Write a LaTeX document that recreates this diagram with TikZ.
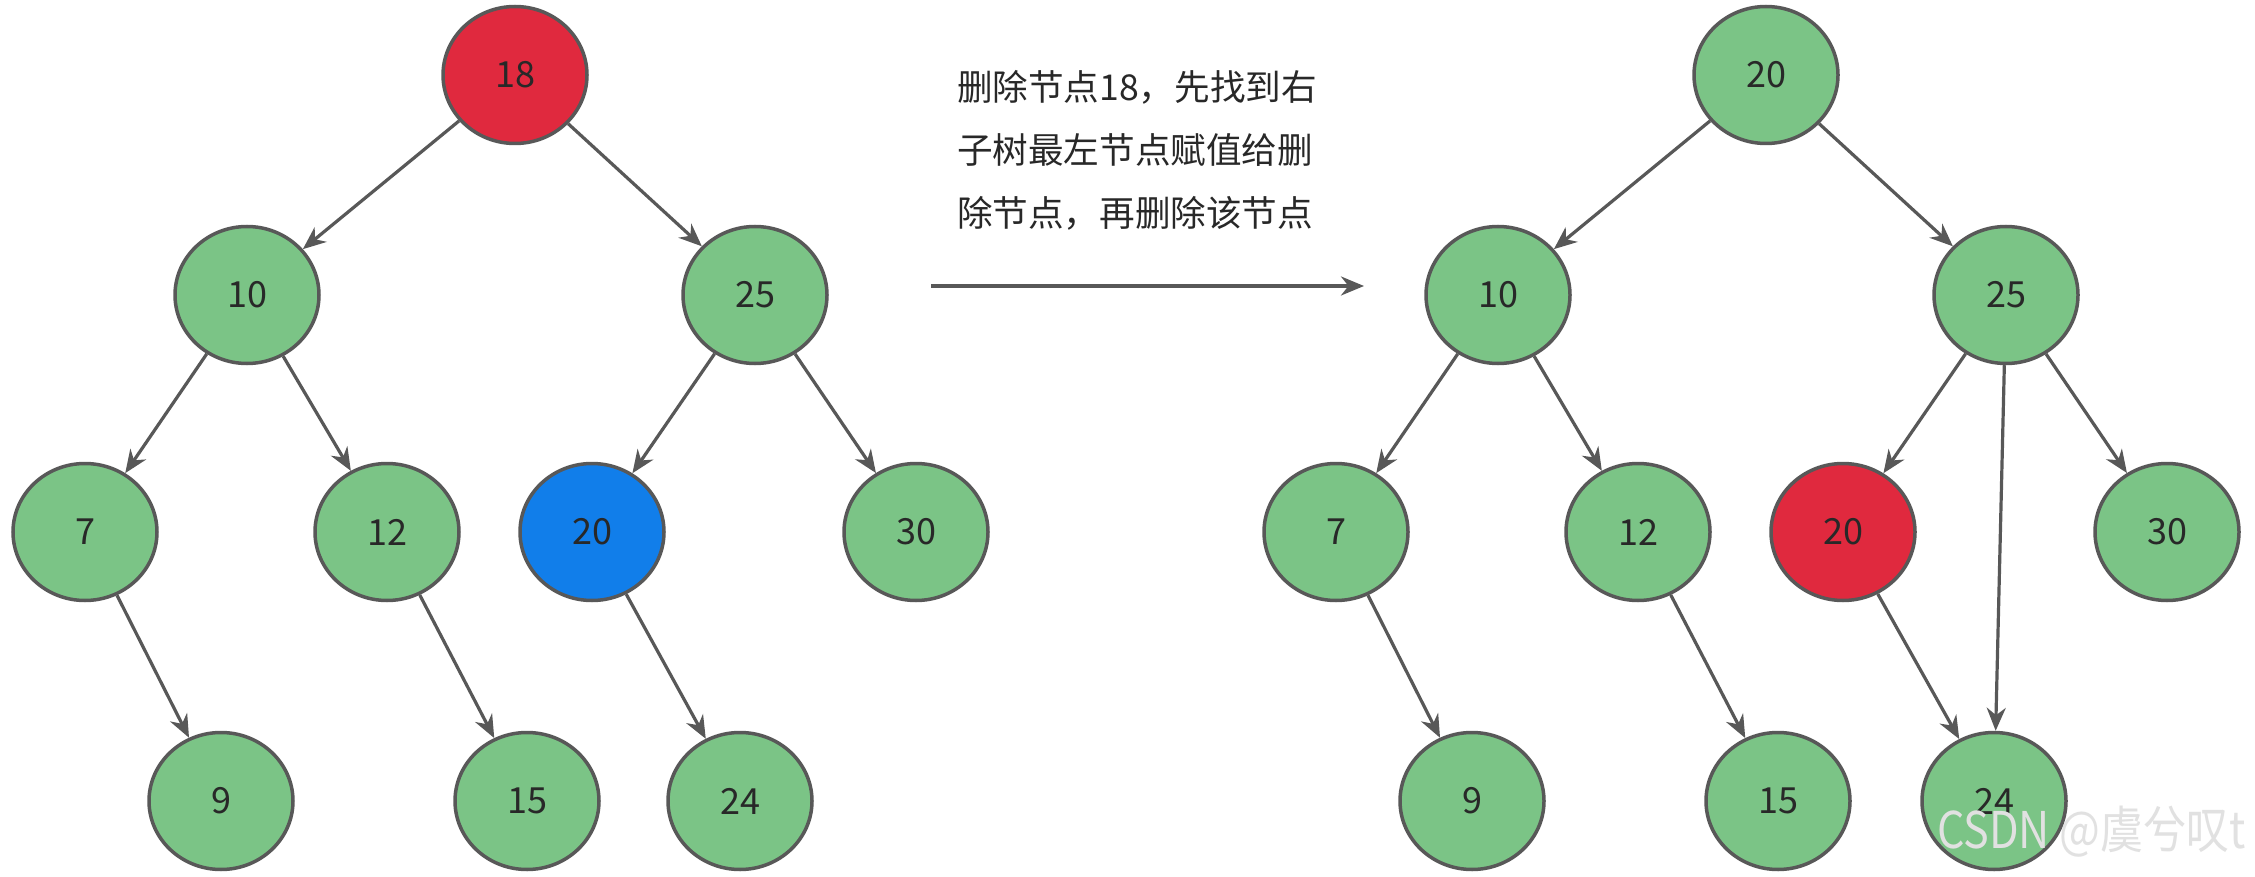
\documentclass[tikz,border=0pt]{standalone}
\usepackage{fontspec}
\setmainfont{Noto Sans CJK SC}
\usetikzlibrary{shapes.geometric,arrows.meta}
\definecolor{ngreen}{RGB}{123,196,134}
\definecolor{nred}{RGB}{224,41,62}
\definecolor{nblue}{RGB}{17,126,234}
\definecolor{nborder}{RGB}{88,88,88}
\definecolor{ntext}{RGB}{40,40,40}
\definecolor{wmark}{RGB}{225,225,225}
\begin{document}
\begin{tikzpicture}[x=1pt,y=-1pt,
  tnode/.style={ellipse,draw=nborder,line width=3.5pt,minimum width=144pt,minimum height=137pt,inner sep=0pt,
    text=ntext,font=\fontsize{36}{36}\selectfont},
  gnode/.style={tnode,fill=ngreen},
  rnode/.style={tnode,fill=nred},
  bnode/.style={tnode,fill=nblue},
  edge/.style={draw=nborder,line width=3.2pt,-{Stealth[length=23pt,width=19pt]}}]
\useasboundingbox[fill=white] (0,0) rectangle (2255,877);
% left tree
\node[rnode] (a18) at (515,75) {18};
\node[gnode] (a10) at (247,295) {10};
\node[gnode] (a25) at (755,295) {25};
\node[gnode] (a7) at (85,532) {7};
\node[gnode] (a12) at (387,532) {12};
\node[bnode] (a20) at (592,532) {20};
\node[gnode] (a30) at (916,532) {30};
\node[gnode] (a9) at (221,801) {9};
\node[gnode] (a15) at (527,801) {15};
\node[gnode] (a24) at (740,801) {24};
\draw[edge] (a18) -- (a10);
\draw[edge] (a18) -- (a25);
\draw[edge] (a10) -- (a7);
\draw[edge] (a10) -- (a12);
\draw[edge] (a25) -- (a20);
\draw[edge] (a25) -- (a30);
\draw[edge] (a7) -- (a9);
\draw[edge] (a12) -- (a15);
\draw[edge] (a20) -- (a24);
% right tree
\node[gnode] (b20t) at (1766,75) {20};
\node[gnode] (b10) at (1498,295) {10};
\node[gnode] (b25) at (2006,295) {25};
\node[gnode] (b7) at (1336,532) {7};
\node[gnode] (b12) at (1638,532) {12};
\node[rnode] (b20) at (1843,532) {20};
\node[gnode] (b30) at (2167,532) {30};
\node[gnode] (b9) at (1472,801) {9};
\node[gnode] (b15) at (1778,801) {15};
\node[gnode] (b24) at (1994,801) {24};
\draw[edge] (b20t) -- (b10);
\draw[edge] (b20t) -- (b25);
\draw[edge] (b10) -- (b7);
\draw[edge] (b10) -- (b12);
\draw[edge] (b25) -- (b20);
\draw[edge] (b25) -- (b30);
\draw[edge] (b25) -- (b24);
\draw[edge] (b7) -- (b9);
\draw[edge] (b12) -- (b15);
\draw[edge] (b20) -- (b24);
% middle
\node[text=ntext,font=\fontsize{35.6}{63}\selectfont,align=left,inner sep=0pt] (txt) at (1137,150)
  {删除节点18，先找到右\\子树最左节点赋值给删\\除节点，再删除该节点};
\coordinate (m1) at (931,286);
\coordinate (m2) at (1364,286);
\draw[edge] (m1) -- (m2);
% watermark
\node[text=wmark,font=\fontsize{44}{44}\selectfont,inner sep=0pt,anchor=west,xscale=0.98,yscale=1.15] (wm) at (1937,832) {CSDN @虞兮叹t};
\end{tikzpicture}
\end{document}
